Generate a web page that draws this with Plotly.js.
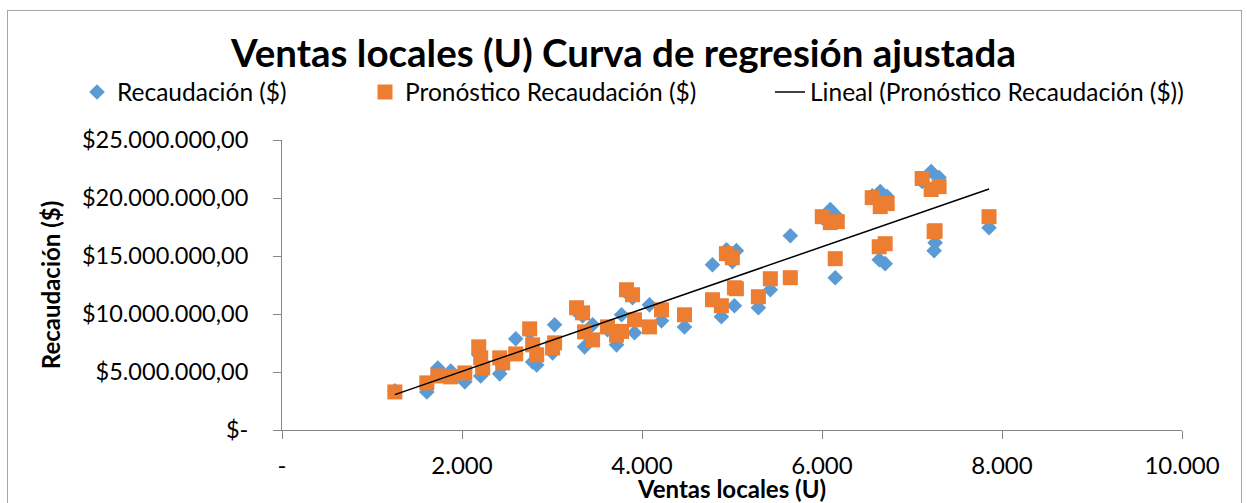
<!DOCTYPE html>
<html><head><meta charset="utf-8">
<script src="https://cdn.plot.ly/plotly-3.0.1.min.js"></script>
<style>
html,body{margin:0;padding:0;background:#fff;}
#frame{position:absolute;left:7px;top:10px;width:1233px;height:500px;border:1px solid #a6a6a6;pointer-events:none;}
</style>
</head><body>
<div id="chart" style="width:1247px;height:503px;"></div>
<div id="frame"></div>
<script>
// Ventas locales (U)
const ventas = [1254,1609,1731,1875,2031,2186,2208,2230,2419,2452,2597,2752,2785,2830,3029,3007,3273,3340,3362,3451,3617,3717,3773,3828,3895,3917,4083,4217,4472,4783,4882,4938,5004,5027,5049,5293,5426,5648,6003,6092,6170,6147,6558,6647,6724,6636,6702,7113,7213,7301,7257,7246,7856];
// Recaudación ($) — millones
const recaudacionM = [3.37,3.28,5.35,5.09,4.15,6.48,4.66,5.20,4.84,5.53,7.86,8.38,5.87,5.61,9.07,6.65,10.19,9.84,7.17,9.07,8.64,7.34,9.93,11.83,11.40,8.38,10.79,9.41,8.89,14.25,9.76,15.54,14.51,10.71,15.46,10.54,12.09,16.75,18.31,19.00,18.39,13.13,20.20,20.55,20.12,14.68,14.34,21.42,22.28,21.76,16.15,15.46,17.44];
// Pronóstico Recaudación ($) — millones
const pronosticoM = [3.28,4.06,4.66,4.58,4.92,7.17,6.22,5.35,6.22,5.79,6.56,8.72,7.34,6.48,7.51,7.08,10.54,10.10,8.46,7.77,8.89,8.18,8.50,12.09,11.66,9.50,8.89,10.36,9.93,11.23,10.71,15.20,14.85,12.26,12.18,11.49,13.04,13.13,18.39,17.88,17.96,14.77,20.03,19.26,19.52,15.80,16.06,21.68,20.73,20.98,17.18,17.10,18.39];

const xTickVals = [0,2000,4000,6000,8000,10000];
const xTickText = ['-','2.000','4.000','6.000','8.000','10.000'];
const yTickVals = [0,5e6,10e6,15e6,20e6,25e6];
const yTickText = ['$-','$5.000.000,00','$10.000.000,00','$15.000.000,00','$20.000.000,00','$25.000.000,00'];

const recaudacion = recaudacionM.map(v => v*1e6);
const pronostico = pronosticoM.map(v => v*1e6);

// least squares trendline on forecast series
const n = ventas.length;
const mx = ventas.reduce((a,b)=>a+b,0)/n;
const my = pronostico.reduce((a,b)=>a+b,0)/n;
let sxy=0, sxx=0;
for (let i=0;i<n;i++){ sxy += (ventas[i]-mx)*(pronostico[i]-my); sxx += (ventas[i]-mx)**2; }
const slope = sxy/sxx, icpt = my - slope*mx;
const tx = [Math.min(...ventas), Math.max(...ventas)];
const ty = tx.map(x => icpt + slope*x);

const F = 'Lato, "Open Sans", sans-serif';

const traces = [
  {x: ventas, y: recaudacion, mode:'markers', type:'scatter', name:'Recaudación ($)',
   marker:{symbol:'diamond', size:12, color:'#5B9BD5'}, legend:'legend'},
  {x: ventas, y: pronostico, mode:'markers', type:'scatter', name:'Pronóstico Recaudación ($)',
   marker:{symbol:'square', size:15, color:'#ED7D31'}, legend:'legend2'},
  {x: tx, y: ty, mode:'lines', type:'scatter', name:'Lineal (Pronóstico Recaudación ($))',
   line:{color:'#000', width:1.5}, legend:'legend3'}
];

const legBase = {orientation:'h', xref:'container', yref:'container', yanchor:'middle', xanchor:'left',
  y: 1-92/503, font:{family:F, size:24.5, color:'#000'}, bgcolor:'rgba(0,0,0,0)'};

const layout = {
  width:1247, height:503,
  margin:{l:282, r:65, t:140, b:73},
  paper_bgcolor:'#fff', plot_bgcolor:'#fff',
  font:{family:F, color:'#000'},
  title:{text:'Ventas locales (U) Curva de regresión ajustada', font:{family:F, size:38.5, weight:'bold', color:'#000'},
         x:0.5, xanchor:'center', xref:'container', y:1-54/503, yanchor:'middle', yref:'container'},
  xaxis:{range:[0,10000], tickvals:xTickVals, ticktext:xTickText, showgrid:false, zeroline:false,
         showline:true, linecolor:'#868686', linewidth:1, ticks:'outside', ticklen:8, tickcolor:'#868686',
         ticklabelstandoff:6,
         tickfont:{family:F, size:24, color:'#000'},
         title:{text:'Ventas locales (U)', font:{family:F, size:24, weight:'bold', color:'#000'}, standoff:4}},
  yaxis:{range:[0,25e6], tickvals:yTickVals, ticktext:yTickText, showgrid:false, zeroline:false,
         showline:true, linecolor:'#868686', linewidth:1, ticks:'outside', ticklen:8, tickcolor:'#868686',
         ticklabelstandoff:20,
         tickfont:{family:F, size:23.5, color:'#000'},
         title:{text:'Recaudación ($)', font:{family:F, size:24, weight:'bold', color:'#000'}, standoff:14}},
  legend: Object.assign({}, legBase, {x: 77/1247}),
  legend2: Object.assign({}, legBase, {x: 365/1247}),
  legend3: Object.assign({}, legBase, {x: 770/1247}),
  showlegend:true
};

Plotly.newPlot('chart', traces, layout, {displayModeBar:false, staticPlot:true});
</script>
</body></html>
